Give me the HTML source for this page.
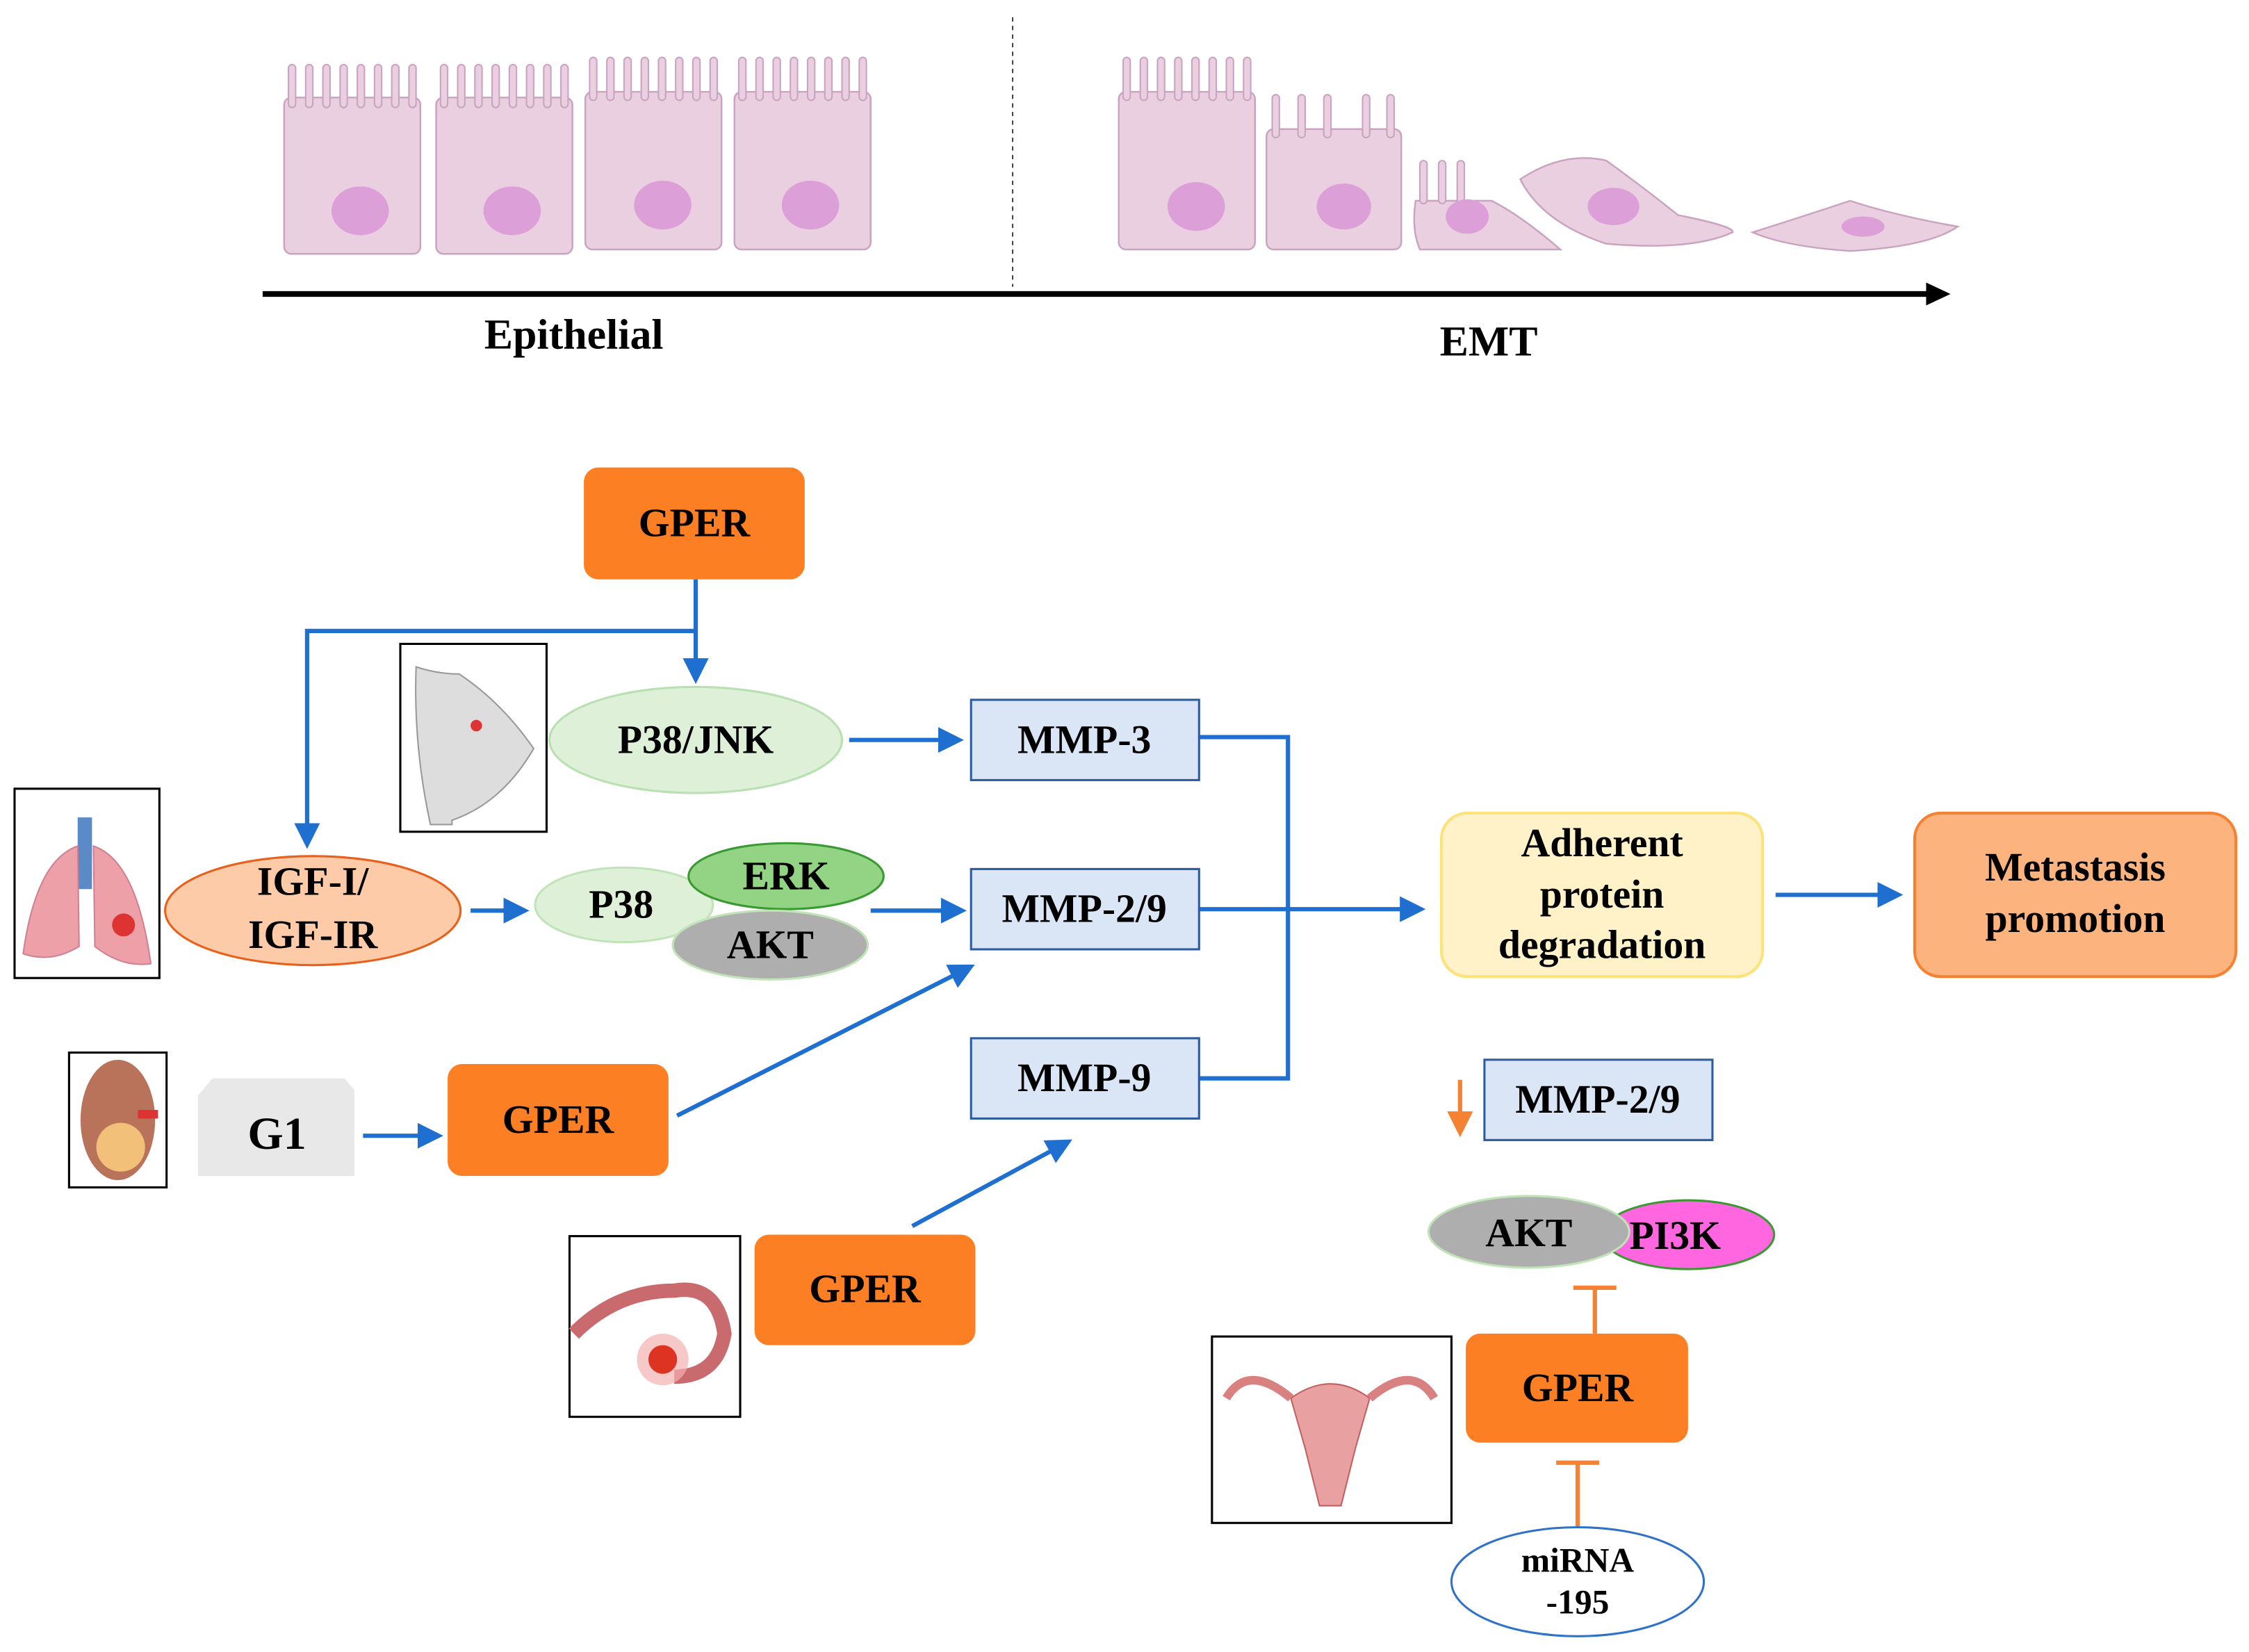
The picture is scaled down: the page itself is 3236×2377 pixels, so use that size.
<!DOCTYPE html>
<html><head><meta charset="utf-8"><style>html,body{margin:0;padding:0;background:#fff}svg{display:block}text{font-family:"Liberation Serif",serif;font-weight:bold;fill:#000;text-anchor:middle}</style></head>
<body>
<svg width="3236" height="2377" viewBox="0 0 1568 1152" xmlns="http://www.w3.org/2000/svg">
<defs>
<marker id="ab" markerWidth="6" markerHeight="6" refX="5" refY="3" orient="auto" markerUnits="strokeWidth"><path d="M0,0 L6,3 L0,6 z" fill="#1f6fd1"/></marker>
<marker id="ao" markerWidth="6" markerHeight="6" refX="5" refY="3" orient="auto" markerUnits="strokeWidth"><path d="M0,0 L6,3 L0,6 z" fill="#f58233"/></marker>
<g id="vil"><rect x="0" y="0" width="5" height="30" rx="2.5" fill="#e9cfe0" stroke="#c9a3c0" stroke-width="1"/></g>
</defs>
<!-- top epithelial cells -->
<g fill="#e9cfe0" stroke="#c9a3c0" stroke-width="1.2">
<rect x="198" y="68" width="95" height="109" rx="5"/>
<rect x="304" y="68" width="95" height="109" rx="5"/>
<rect x="408" y="64" width="95" height="110" rx="5"/>
<rect x="512" y="64" width="95" height="110" rx="5"/>
<rect x="780" y="64" width="95" height="110" rx="5"/>
<rect x="883" y="90" width="94" height="84" rx="5"/>
<path d="M987,140 L1040,140 Q1060,150 1088,174 L990,174 Q984,160 987,140 z"/>
<path d="M1060,125 Q1090,105 1120,112 Q1145,130 1170,150 Q1210,158 1208,162 Q1180,175 1120,170 Q1075,155 1060,125 z"/>
<path d="M1222,162 Q1260,150 1290,140 Q1320,150 1365,158 Q1345,172 1290,175 Q1245,172 1222,162 z"/>
</g>
<g>
<use href="#vil" x="201" y="45"/><use href="#vil" x="213" y="45"/><use href="#vil" x="225" y="45"/><use href="#vil" x="237" y="45"/><use href="#vil" x="249" y="45"/><use href="#vil" x="261" y="45"/><use href="#vil" x="273" y="45"/><use href="#vil" x="285" y="45"/>
<use href="#vil" x="307" y="45"/><use href="#vil" x="319" y="45"/><use href="#vil" x="331" y="45"/><use href="#vil" x="343" y="45"/><use href="#vil" x="355" y="45"/><use href="#vil" x="367" y="45"/><use href="#vil" x="379" y="45"/><use href="#vil" x="391" y="45"/>
<use href="#vil" x="411" y="40"/><use href="#vil" x="423" y="40"/><use href="#vil" x="435" y="40"/><use href="#vil" x="447" y="40"/><use href="#vil" x="459" y="40"/><use href="#vil" x="471" y="40"/><use href="#vil" x="483" y="40"/><use href="#vil" x="495" y="40"/>
<use href="#vil" x="515" y="40"/><use href="#vil" x="527" y="40"/><use href="#vil" x="539" y="40"/><use href="#vil" x="551" y="40"/><use href="#vil" x="563" y="40"/><use href="#vil" x="575" y="40"/><use href="#vil" x="587" y="40"/><use href="#vil" x="599" y="40"/>
<use href="#vil" x="783" y="40"/><use href="#vil" x="795" y="40"/><use href="#vil" x="807" y="40"/><use href="#vil" x="819" y="40"/><use href="#vil" x="831" y="40"/><use href="#vil" x="843" y="40"/><use href="#vil" x="855" y="40"/><use href="#vil" x="867" y="40"/>
<use href="#vil" x="887" y="66"/><use href="#vil" x="905" y="66"/><use href="#vil" x="923" y="66"/><use href="#vil" x="950" y="66"/><use href="#vil" x="967" y="66"/>
<use href="#vil" x="990" y="112"/><use href="#vil" x="1003" y="112"/><use href="#vil" x="1016" y="112"/>
</g>
<g fill="#dd9fd8">
<ellipse cx="251" cy="147" rx="20" ry="17"/><ellipse cx="357" cy="147" rx="20" ry="17"/><ellipse cx="462" cy="143" rx="20" ry="17"/><ellipse cx="565" cy="143" rx="20" ry="17"/>
<ellipse cx="834" cy="144" rx="20" ry="17"/><ellipse cx="937" cy="144" rx="19" ry="16"/><ellipse cx="1023" cy="151" rx="15" ry="12"/><ellipse cx="1125" cy="144" rx="18" ry="13"/><ellipse cx="1299" cy="158" rx="15" ry="7"/>
</g>
<line x1="706" y1="12" x2="706" y2="200" stroke="#444" stroke-width="1" stroke-dasharray="3,3"/>
<line x1="183" y1="205" x2="1345" y2="205" stroke="#000" stroke-width="4"/>
<path d="M1343,197 L1360,205 L1343,213 z" fill="#000"/>
<text x="400" y="243" font-size="30">Epithelial</text>
<text x="1038" y="248" font-size="30">EMT</text>

<!-- connectors -->
<g stroke="#1f6fd1" stroke-width="3" fill="none">
<line x1="485" y1="404" x2="485" y2="474" marker-end="url(#ab)"/>
<polyline points="485,440 214,440 214,589" marker-end="url(#ab)"/>
<line x1="592" y1="516" x2="669" y2="516" marker-end="url(#ab)"/>
<line x1="328" y1="635" x2="366" y2="635" marker-end="url(#ab)"/>
<line x1="607" y1="635" x2="671" y2="635" marker-end="url(#ab)"/>
<polyline points="836,514 898,514 898,752 836,752"/>
<line x1="836" y1="634" x2="991" y2="634" marker-end="url(#ab)"/>
<line x1="1238" y1="624" x2="1324" y2="624" marker-end="url(#ab)"/>
<line x1="253" y1="792" x2="306" y2="792" marker-end="url(#ab)"/>
<line x1="472" y1="778" x2="677" y2="674" marker-end="url(#ab)"/>
<line x1="636" y1="855" x2="745" y2="796" marker-end="url(#ab)"/>
</g>
<g stroke="#f58233" stroke-width="3" fill="none">
<line x1="1018" y1="753" x2="1018" y2="790" marker-end="url(#ao)"/>
<line x1="1112" y1="930" x2="1112" y2="898"/><line x1="1097" y1="898" x2="1127" y2="898"/>
<line x1="1100" y1="1065" x2="1100" y2="1020"/><line x1="1085" y1="1020" x2="1115" y2="1020"/>
</g>

<!-- nodes -->
<rect x="407" y="326" width="154" height="78" rx="10" fill="#fd7f24"/>
<text x="484" y="374" font-size="28">GPER</text>
<ellipse cx="485" cy="516" rx="102" ry="37" fill="#def1d8" stroke="#b8e0b0" stroke-width="1.5"/>
<text x="485" y="525" font-size="28">P38/JNK</text>
<g fill="#dae5f5" stroke="#2f5c9e" stroke-width="1.5">
<rect x="677" y="488" width="159" height="56"/><rect x="677" y="606" width="159" height="56"/><rect x="677" y="724" width="159" height="56"/><rect x="1035" y="739" width="159" height="56"/>
</g>
<text x="756" y="525" font-size="28">MMP-3</text>
<text x="756" y="643" font-size="28">MMP-2/9</text>
<text x="756" y="761" font-size="28">MMP-9</text>
<text x="1114" y="776" font-size="28">MMP-2/9</text>
<ellipse cx="218" cy="635" rx="103" ry="38" fill="#fdcba8" stroke="#e8601c" stroke-width="1.5"/>
<text x="218" y="624" font-size="28">IGF-I/</text><text x="218" y="661" font-size="28">IGF-IR</text>
<ellipse cx="435" cy="631" rx="62" ry="26" fill="#def1d8" stroke="#c0e4b8" stroke-width="1.5"/>
<text x="433" y="640" font-size="28">P38</text>
<ellipse cx="548" cy="611" rx="68" ry="23" fill="#93d384" stroke="#3a9a32" stroke-width="1.5"/>
<text x="548" y="620" font-size="28">ERK</text>
<ellipse cx="537" cy="659" rx="68" ry="24" fill="#aeaeae" stroke="#c0e4b8" stroke-width="1.5"/>
<text x="537" y="668" font-size="28">AKT</text>
<rect x="1005" y="567" width="224" height="114" rx="18" fill="#fff1c8" stroke="#fde27a" stroke-width="2"/>
<text x="1117" y="597" font-size="28">Adherent</text><text x="1117" y="633" font-size="28">protein</text><text x="1117" y="668" font-size="28">degradation</text>
<rect x="1335" y="567" width="224" height="114" rx="18" fill="#fdb37e" stroke="#f58233" stroke-width="2"/>
<text x="1447" y="614" font-size="28">Metastasis</text><text x="1447" y="650" font-size="28">promotion</text>
<path d="M148,752 L240,752 L247,760 L247,820 L138,820 L138,764 z" fill="#e8e8e8"/>
<text x="193" y="801" font-size="32">G1</text>
<rect x="312" y="742" width="154" height="78" rx="10" fill="#fd7f24"/>
<text x="389" y="790" font-size="28">GPER</text>
<rect x="526" y="861" width="154" height="77" rx="10" fill="#fd7f24"/>
<text x="603" y="908" font-size="28">GPER</text>
<ellipse cx="1177" cy="861" rx="60" ry="24" fill="#ff66e0" stroke="#3a9a32" stroke-width="1.5"/>
<ellipse cx="1066" cy="859" rx="70" ry="25" fill="#aeaeae" stroke="#c0e4b8" stroke-width="1.5"/>
<text x="1066" y="869" font-size="28">AKT</text><text x="1168" y="871" font-size="28">PI3K</text>
<rect x="1022" y="930" width="155" height="76" rx="10" fill="#fd7f24"/>
<text x="1100" y="977" font-size="28">GPER</text>
<ellipse cx="1100" cy="1103" rx="88" ry="38" fill="#fff" stroke="#2f72c8" stroke-width="1.5"/>
<text x="1100" y="1096" font-size="24">miRNA</text><text x="1100" y="1125" font-size="24">-195</text>

<!-- image boxes -->
<g fill="#fff" stroke="#000" stroke-width="1.5">
<rect x="279" y="449" width="102" height="131"/>
<rect x="10" y="550" width="101" height="132"/>
<rect x="48" y="734" width="68" height="94"/>
<rect x="397" y="862" width="119" height="126"/>
<rect x="845" y="932" width="167" height="130"/>
</g>
<!-- breast -->
<path d="M290,465 Q305,470 320,470 Q350,490 372,522 Q350,560 315,572 L315,575 L300,575 Q288,520 290,465 z" fill="#ddd" stroke="#999"/>
<circle cx="332" cy="506" r="4" fill="#d33"/>
<!-- lung -->
<rect x="54" y="570" width="10" height="50" fill="#5a8ac8"/>
<path d="M54,590 Q25,600 16,665 Q35,672 55,660 z" fill="#eda0a8" stroke="#d08090"/>
<path d="M65,590 Q95,600 105,672 Q85,675 66,660 z" fill="#eda0a8" stroke="#d08090"/>
<circle cx="86" cy="645" r="8" fill="#d33"/>
<!-- kidney -->
<ellipse cx="82" cy="781" rx="26" ry="42" fill="#b8735a"/>
<circle cx="84" cy="800" r="17" fill="#f3c07a"/>
<rect x="96" y="774" width="14" height="6" fill="#d33"/>
<!-- ovary -->
<path d="M400,930 Q430,900 470,900 Q500,895 505,930 Q500,960 470,960" fill="none" stroke="#c96a6e" stroke-width="10"/>
<circle cx="462" cy="948" r="18" fill="#f4b0b0" opacity="0.7"/>
<circle cx="462" cy="948" r="10" fill="#d32"/>
<!-- uterus -->
<path d="M900,975 Q928,955 955,975 L945,1010 L935,1050 L920,1050 L910,1010 z" fill="#e9a0a0" stroke="#c06060"/>
<path d="M900,975 Q870,950 855,975 M955,975 Q985,950 1000,975" fill="none" stroke="#d98080" stroke-width="6"/>
</svg>
</body></html>
